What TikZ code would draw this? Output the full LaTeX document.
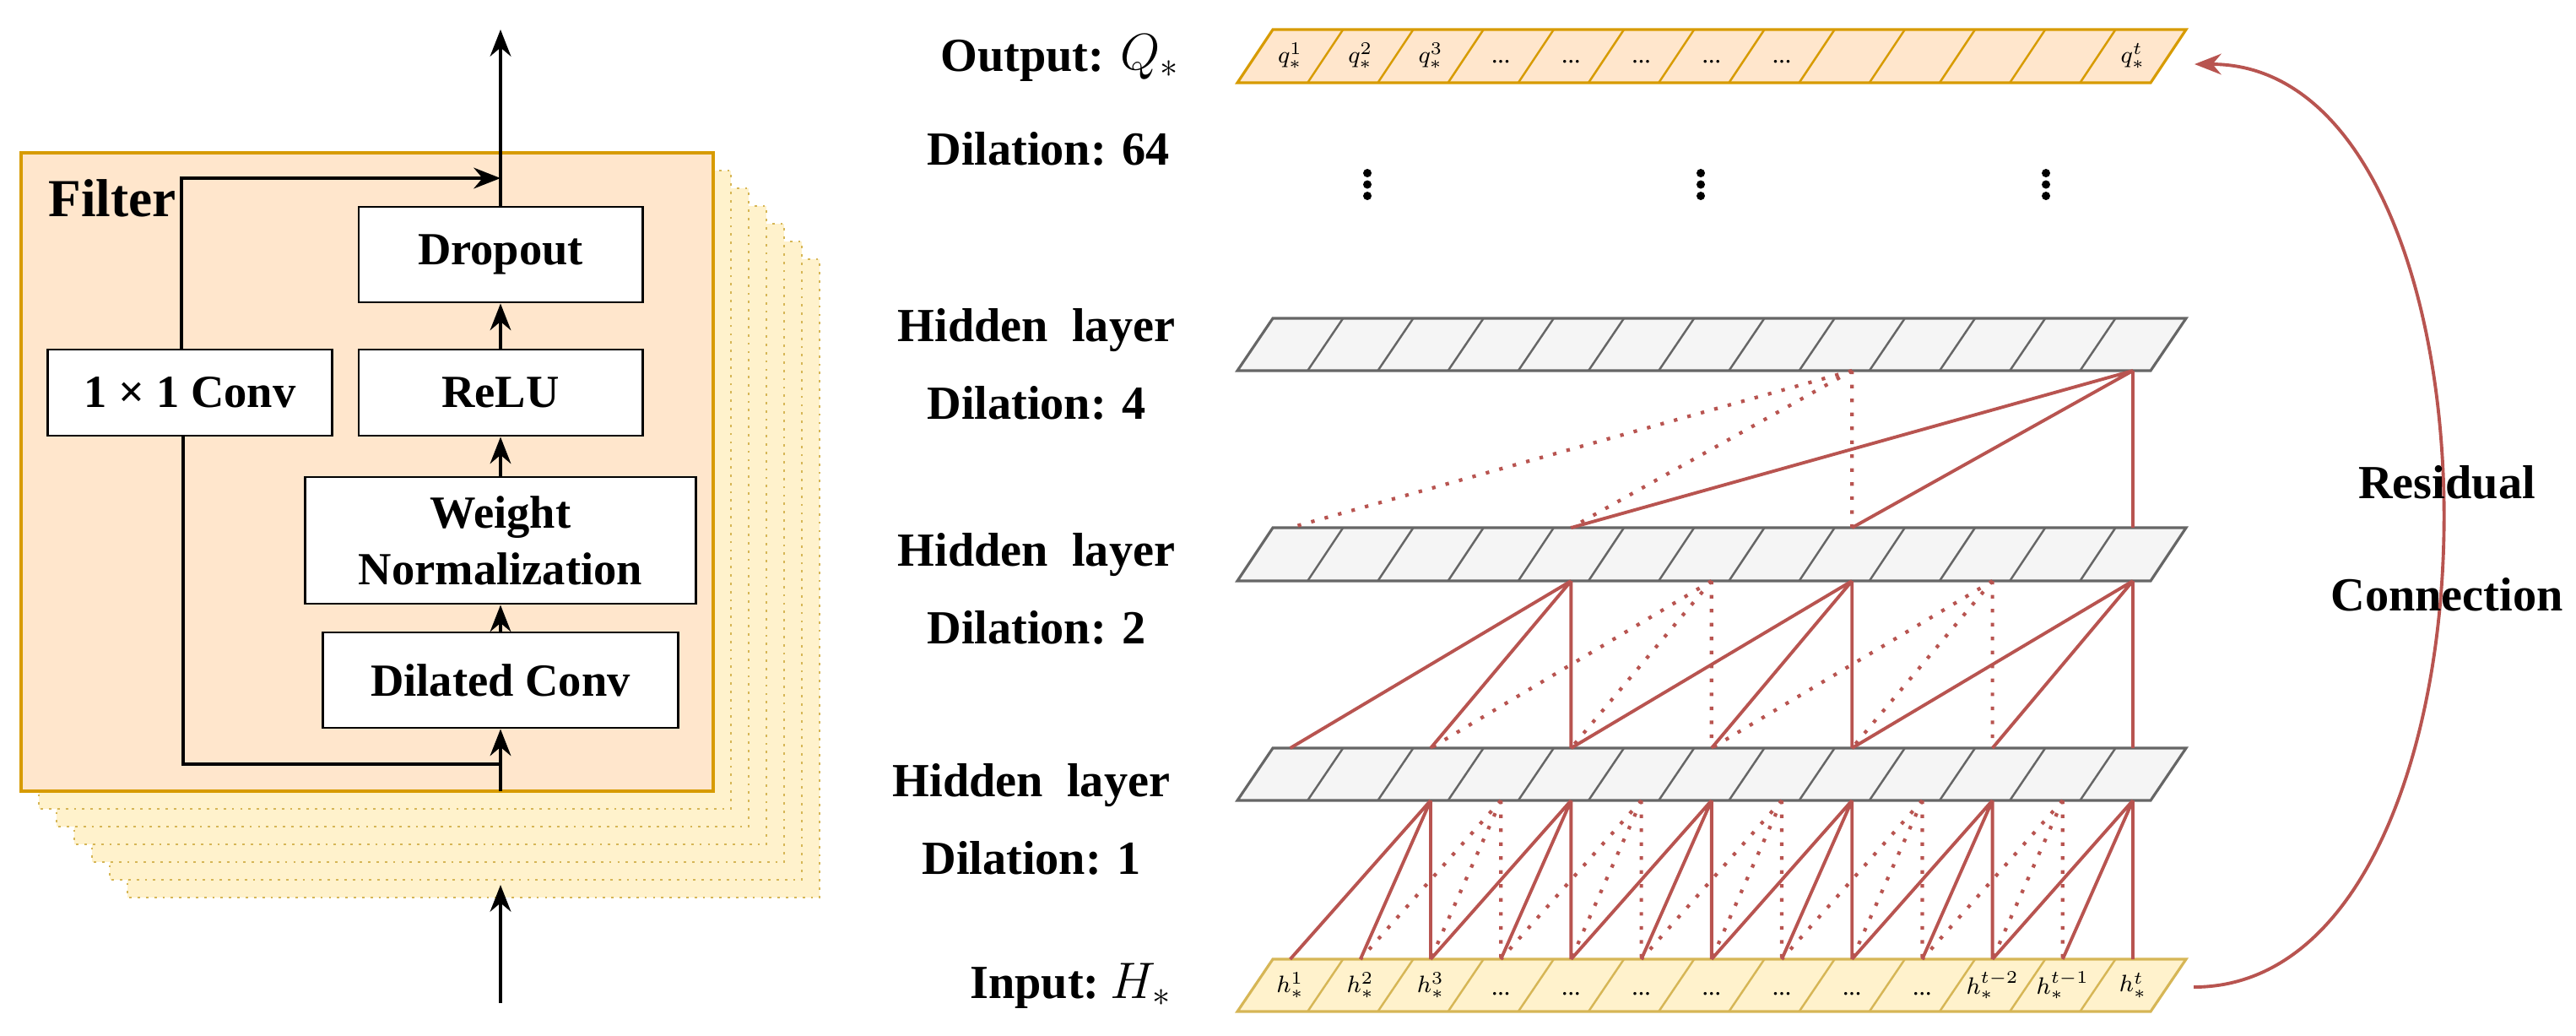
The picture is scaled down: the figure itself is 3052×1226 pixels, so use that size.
\documentclass[tikz,border=0pt]{standalone}
\usepackage{fontspec}
\setmainfont{Liberation Serif}
\usetikzlibrary{arrows.meta}
\definecolor{orF}{HTML}{FFE6CC}\definecolor{orD}{HTML}{D79B00}
\definecolor{yeF}{HTML}{FFF2CC}\definecolor{yeD}{HTML}{D6B656}
\definecolor{grF}{HTML}{F5F5F5}\definecolor{grD}{HTML}{666666}
\definecolor{red1}{HTML}{B85450}
\newcommand\tcnbar[5]{% name, ytop, ybot, fill, draw
  \draw[line width=0.9pt,fill=#4,draw=#5] (1466,#3) -- (2548,#3) -- (2590,#2) -- (1508,#2) -- cycle;
  \foreach \k in {1,...,12}{\draw[line width=0.7pt,draw=#5] ({1466+83.2*\k},#3) -- ({1508+83.2*\k},#2);}
  \foreach \k in {0,...,12}{
    \coordinate (#1-t-\k) at ({1528.6+83.2*\k},#2);
    \coordinate (#1-b-\k) at ({1528.6+83.2*\k},#3);
    \coordinate (#1-m-\k) at ({1528.6+83.2*\k},{(#2+#3)/2});}
}
\begin{document}
\begin{tikzpicture}[x=0.01cm,y=-0.01cm,
  box/.style={draw=black,fill=white,line width=0.8pt,font=\fontsize{15.5}{19}\selectfont\bfseries,align=center,inner sep=0pt},
  arr/.style={-{Stealth[length=9pt,width=7pt]},line width=1.2pt},
  ln/.style={line width=1.2pt},
  sol/.style={draw=red1,line width=1.1pt},
  dot/.style={draw=red1,line width=1.2pt,dash pattern=on 1.2pt off 3.5pt},
  lab/.style={font=\fontsize{16}{19}\selectfont\bfseries},
  cl/.style={font=\fontsize{8.5}{10}\selectfont,inner sep=0pt},
  vd/.style={circle,fill=black,inner sep=0pt,minimum size=0.1cm}]
\useasboundingbox (0,0) rectangle (3052,1226);
% ---- filter stack
\foreach \k in {6,5,...,1}{
  \draw[fill=yeF,draw=yeD,line width=0.8pt,dotted] ({25+21*\k},{181+21*\k}) rectangle ({845+21*\k},{937+21*\k});}
\draw[fill=orF,draw=orD,line width=0.9pt] (25,181) rectangle (845,937);
\node[anchor=west,font=\fontsize{18}{20}\selectfont\bfseries] (filt) at (45,235) {Filter};
\node[box,minimum width=3.36cm,minimum height=1.13cm] (drop) at (593,301.5) {Dropout};
\node[box,minimum width=3.36cm,minimum height=1.02cm] (relu) at (593,465) {ReLU};
\node[box,minimum width=3.36cm,minimum height=1.02cm] (conv1) at (225,465) {1 × 1 Conv};
\node[box,minimum width=4.62cm,minimum height=1.50cm] (wn) at (593,640) {Weight\\Normalization};
\node[box,minimum width=4.20cm,minimum height=1.13cm] (dil) at (593,805.5) {Dilated Conv};
\coordinate (outTop) at (593,35);
\coordinate (inBot) at (593,1188);
\coordinate (inTip) at (593,1048);
\coordinate (boxBot) at (593,937);
\coordinate (skipA) at (215,211);
\coordinate (skipB) at (593,211);
\coordinate (skipC) at (217,905);
\coordinate (skipD) at (593,905);
\draw[arr] (drop.north) -- (outTop);
\draw[arr] (relu) -- (drop);
\draw[arr] (wn) -- (relu);
\draw[arr] (dil) -- (wn);
\draw[arr] (boxBot) -- (dil.south);
\draw[arr] (inBot) -- (inTip);
\draw[arr] (conv1.north -| skipA) -- (skipA) -- (skipB);
\draw[ln] (conv1.south -| skipC) -- (skipC) -- (skipD);
% ---- TCN
\tcnbar{O}{35}{98}{orF}{orD}
\tcnbar{HA}{377}{439}{grF}{grD}
\tcnbar{HB}{625}{688}{grF}{grD}
\tcnbar{HC}{886}{948}{grF}{grD}
\tcnbar{I}{1136}{1198}{yeF}{yeD}
% labels in bars
\node[cl] at (O-m-0) {$q_*^1$};
\node[cl] at (O-m-1) {$q_*^2$};
\node[cl] at (O-m-2) {$q_*^3$};
\foreach \k in {3,...,7}{\node[cl] at ([yshift=-2pt]O-m-\k) {...};}
\node[cl] at (O-m-12) {$q_*^t$};
\node[cl] at (I-m-0) {$h_*^1$};
\node[cl] at (I-m-1) {$h_*^2$};
\node[cl] at (I-m-2) {$h_*^3$};
\foreach \k in {3,...,9}{\node[cl] at ([yshift=-3pt]I-m-\k) {...};}
\node[cl] at (I-m-10) {$h_*^{t-2}$};
\node[cl] at (I-m-11) {$h_*^{t-1}$};
\node[cl] at (I-m-12) {$h_*^t$};
% dilation 1
\foreach \i in {2,4,...,12}{
  \pgfmathtruncatemacro\a{\i-1}\pgfmathtruncatemacro\b{\i-2}
  \draw[sol] (HC-b-\i) -- (I-t-\i) (HC-b-\i) -- (I-t-\a) (HC-b-\i) -- (I-t-\b);}
\foreach \i in {3,5,...,11}{
  \pgfmathtruncatemacro\a{\i-1}\pgfmathtruncatemacro\b{\i-2}
  \draw[dot] (HC-b-\i) -- (I-t-\i) (HC-b-\i) -- (I-t-\a) (HC-b-\i) -- (I-t-\b);}
% dilation 2
\foreach \i in {4,8,12}{
  \pgfmathtruncatemacro\a{\i-2}\pgfmathtruncatemacro\b{\i-4}
  \draw[sol] (HB-b-\i) -- (HC-t-\i) (HB-b-\i) -- (HC-t-\a) (HB-b-\i) -- (HC-t-\b);}
\foreach \i in {6,10}{
  \pgfmathtruncatemacro\a{\i-2}\pgfmathtruncatemacro\b{\i-4}
  \draw[dot] (HB-b-\i) -- (HC-t-\i) (HB-b-\i) -- (HC-t-\a) (HB-b-\i) -- (HC-t-\b);}
% dilation 4
\draw[sol] (HA-b-12) -- (HB-t-12) (HA-b-12) -- (HB-t-8) (HA-b-12) -- (HB-t-4);
\draw[dot] (HA-b-8) -- (HB-t-8) (HA-b-8) -- (HB-t-4) (HA-b-8) -- (HB-t-0);
% vertical dots
\foreach \x/\n in {1620/a,2015/b,2424/c}{
  \node[vd] (vd\n1) at (\x,205) {};
  \node[vd] (vd\n2) at (\x,218.5) {};
  \node[vd] (vd\n3) at (\x,232) {};}
% left labels
\node[lab,anchor=west] (lout) at (1102,72) {Output:};
\node[font=\fontsize{18}{20}\selectfont] (lq) at (1362,68) {$Q_*$};
\node[lab,anchor=west] (d64) at (1086,176) {Dilation: 64};
\node[lab] (h1) at (1228,391) {Hidden\ \ layer};
\node[lab,anchor=west] (d4) at (1086,477) {Dilation: 4};
\node[lab] (h2) at (1228,657) {Hidden\ \ layer};
\node[lab,anchor=west] (d2) at (1086,743) {Dilation: 2};
\node[lab] (h3) at (1222,930) {Hidden\ \ layer};
\node[lab,anchor=west] (d1) at (1080,1016) {Dilation: 1};
\node[lab,anchor=west] (lin) at (1137,1170) {Input:};
\node[font=\fontsize{18}{20}\selectfont] (lh) at (1352,1166) {$H_*$};
% residual
\coordinate (rs) at (2599,1169);
\coordinate (re) at (2600,76);
\draw[draw=red1,line width=1.1pt,-{Stealth[length=9pt,width=7pt]}] (rs) .. controls (2991,1169) and (2991,76) .. (re);
\node[lab] (res1) at (2899,571) {Residual};
\node[lab] (res2) at (2899,704) {Connection};
\end{tikzpicture}
\end{document}
